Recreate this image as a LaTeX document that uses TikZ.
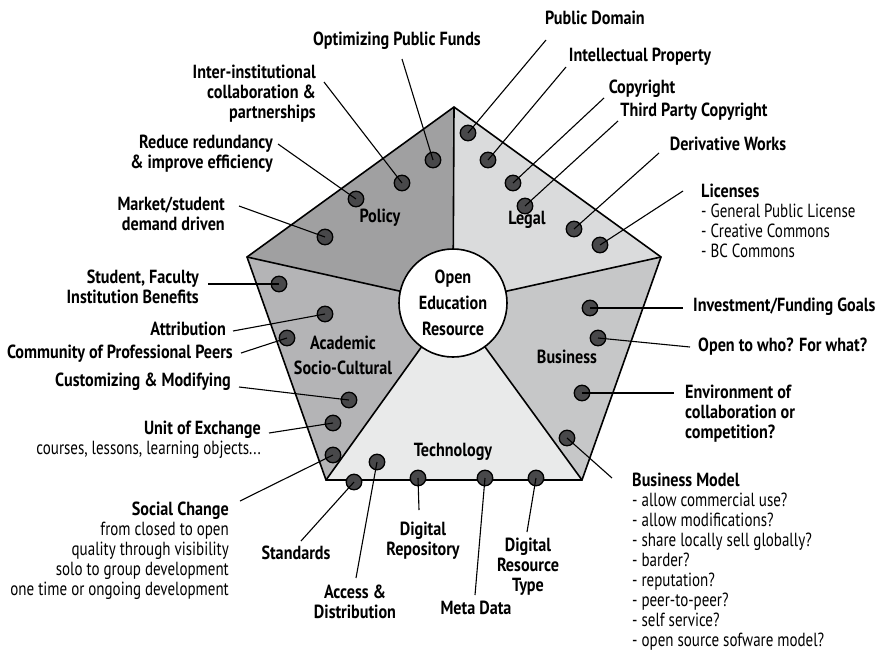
\documentclass[tikz,border=0pt]{standalone}
\usepackage{fontspec}
\setmainfont{PT Sans}[FakeStretch=0.79,BoldFeatures={FakeStretch=0.85}]
\definecolor{policygray}{RGB}{160,160,161}
\definecolor{legalgray}{RGB}{218,219,220}
\definecolor{businessgray}{RGB}{198,199,200}
\definecolor{techgray}{RGB}{233,234,234}
\definecolor{academicgray}{RGB}{180,180,182}
\definecolor{spotgray}{RGB}{72,72,74}
\newcommand\lblfont{\fontsize{19}{20}\selectfont}
\newcommand\secfont{\fontsize{19}{25}\selectfont}
\tikzset{
  spot/.style={circle,draw,line width=1.3pt,fill=spotgray,minimum size=15.5pt,inner sep=0pt},
  lbl/.style={font=\lblfont\bfseries,inner sep=0pt},
  sub/.style={font=\lblfont,inner sep=0pt},
  sector/.style={font=\secfont\bfseries,inner sep=0pt,align=center},
  leader/.style={line width=1.1pt},
}
\begin{document}
\begin{tikzpicture}[x=1pt,y=-1pt]
            \useasboundingbox (0,0) rectangle (881,651);
            % pentagon corners and hub
            \coordinate (top) at (454,107);
            \coordinate (rgt) at (661,257);
            \coordinate (brt) at (582,480);
            \coordinate (blt) at (326,480);
            \coordinate (lft) at (247,257);
            \coordinate (hub) at (453,303);

            \fill[policygray] (hub) -- (lft) -- (top) -- cycle;
            \fill[legalgray] (hub) -- (top) -- (rgt) -- cycle;
            \fill[businessgray] (hub) -- (rgt) -- (brt) -- cycle;
            \fill[techgray] (hub) -- (brt) -- (blt) -- cycle;
            \fill[academicgray] (hub) -- (blt) -- (lft) -- cycle;
            \foreach \c in {top,rgt,brt,blt,lft}
                \draw[line width=1.6pt] (hub) -- (\c);
            \draw[line width=1.6pt,line join=miter] (top) -- (rgt) -- (brt) -- (blt) -- (lft) -- cycle;

            \node[draw,circle,fill=white,line width=1.6pt,minimum size=108pt,inner sep=0pt,
                  font=\fontsize{19}{26}\selectfont\bfseries,align=center] (oer) at (hub) {Open\\Education\\Resource};

            \node[sector] (policy) at (380,218) {Policy};
            \node[sector] (legal) at (527,220) {Legal};
            \node[sector] (business) at (567,357) {Business};
            \node[sector] (tech) at (453,452) {Technology};
            \node[sector,anchor=north] (academic) at (343,336) {Academic\\Socio-Cultural};

            % spots
            \node[spot] (pa) at (433,160) {};
            \node[spot] (pb) at (402,183) {};
            \node[spot] (pc) at (356,199) {};
            \node[spot] (pd) at (325,237) {};
            \node[spot] (la) at (468,133) {};
            \node[spot] (lb) at (488,160) {};
            \node[spot] (lc) at (513,183) {};
            \node[spot] (ld) at (525,206) {};
            \node[spot] (le) at (574,229) {};
            \node[spot] (lf) at (600,245) {};
            \node[spot] (aa) at (279,284) {};
            \node[spot] (ab) at (325,314) {};
            \node[spot] (ac) at (287,338) {};
            \node[spot] (ad) at (349,400) {};
            \node[spot] (ae) at (333,423) {};
            \node[spot] (af) at (333,455) {};
            \node[spot] (ta) at (354,482) {};
            \node[spot] (tb) at (377,462) {};
            \node[spot] (tc) at (418,478) {};
            \node[spot] (td) at (485,478) {};
            \node[spot] (te) at (536,478) {};
            \node[spot] (ba) at (590,308) {};
            \node[spot] (bb) at (598,338) {};
            \node[spot] (bc) at (582,393) {};
            \node[spot] (bd) at (567,438) {};

            % labels
            \node[lbl] (publicdomain) at (595,18) {Public Domain};
            \node[lbl] (funds) at (397,41) {Optimizing Public Funds};
            \node[lbl] (ip) at (640,57) {Intellectual Property};
            \node[lbl,align=right,anchor=north east] (interinst) at (316,65) {Inter-institutional\\collaboration \&\\partnerships};
            \node[lbl] (copyright) at (642,89) {Copyright};
            \node[lbl] (thirdparty) at (694,112) {Third Party Copyright};
            \node[lbl,align=right,anchor=north east] (redundancy) at (273,135) {Reduce redundancy\\\& improve efficiency};
            \node[lbl] (derivative) at (728,144) {Derivative Works};
            \node[lbl,align=right,anchor=north east] (market) at (225,197) {Market/student\\demand driven};
            \node[sub,align=left,anchor=north west] (licenses) at (701,184) {\textbf{Licenses}\\- General Public License\\- Creative Commons\\- BC Commons};
            \node[lbl,align=right,anchor=north east] (benefits) at (199,270) {Student, Faculty\\Institution Benefits};
            \node[lbl,anchor=east] (attribution) at (226,329) {Attribution};
            \node[lbl,anchor=east] (peers) at (233,354) {Community of Professional Peers};
            \node[lbl,anchor=east] (customizing) at (231,382) {Customizing \& Modifying};
            \node[sub,align=right,anchor=north east] (unit) at (261,421) {\textbf{Unit of Exchange}\\courses, lessons, learning objects...};
            \node[sub,align=right,anchor=north east] (social) at (229,502) {\textbf{Social Change}\\from closed to open\\quality through visibility\\solo to group development\\one time or ongoing development};
            \node[lbl] (standards) at (296,553) {Standards};
            \node[lbl,align=center,anchor=north] (access) at (355,585) {Access \&\\Distribution};
            \node[lbl,align=center,anchor=north] (repository) at (423,522) {Digital\\Repository};
            \node[lbl] (metadata) at (476,608) {Meta Data};
            \node[lbl,align=center,anchor=north] (restype) at (528,538) {Digital\\Resource\\Type};
            \node[lbl,anchor=west] (funding) at (693,307) {Investment/Funding Goals};
            \node[lbl,anchor=west] (opento) at (698,347) {Open to who? For what?};
            \node[lbl,align=left,anchor=north west] (environment) at (685,385) {Environment of\\collaboration or\\competition?};
            \node[sub,align=left,anchor=north west] (model) at (632,473) {\textbf{Business Model}\\- allow commercial use?\\- allow modifications?\\- share locally sell globally?\\- barder?\\- reputation?\\- peer-to-peer?\\- self service?\\- open source sofware model?};

            % leader ends
            \coordinate (e-publicdomain) at (546,40);
            \coordinate (e-funds) at (402,59);
            \coordinate (e-ip) at (566,67);
            \coordinate (e-interinst) at (324,82);
            \coordinate (e-copyright) at (604,98);
            \coordinate (e-thirdparty) at (618,121);
            \coordinate (e-redundancy) at (278,144);
            \coordinate (e-derivative) at (659,153);
            \coordinate (e-market) at (239,206);
            \coordinate (e-licenses) at (683,191);
            \coordinate (e-benefits) at (208,284);
            \coordinate (e-attribution) at (233,331);
            \coordinate (e-peers) at (241,353);
            \coordinate (e-customizing) at (239,387);
            \coordinate (e-unit) at (269,433);
            \coordinate (e-social) at (240,501);
            \coordinate (e-standards) at (301,541);
            \coordinate (e-access) at (356,578);
            \coordinate (e-repository) at (419,510);
            \coordinate (e-metadata) at (475,595);
            \coordinate (e-restype) at (527,532);
            \coordinate (e-funding) at (683,308);
            \coordinate (e-opento) at (690,347);
            \coordinate (e-environment) at (674,393);
            \coordinate (e-model) at (612,478);

            \path[leader] (pa.center) edge (e-funds);
            \path[leader] (pb.center) edge (e-interinst);
            \path[leader] (pc.center) edge (e-redundancy);
            \path[leader] (pd.center) edge (e-market);
            \path[leader] (la.center) edge (e-publicdomain);
            \path[leader] (lb.center) edge (e-ip);
            \path[leader] (lc.center) edge (e-copyright);
            \path[leader] (ld.center) edge (e-thirdparty);
            \path[leader] (le.center) edge (e-derivative);
            \path[leader] (lf.center) edge (e-licenses);
            \path[leader] (aa.center) edge (e-benefits);
            \path[leader] (ab.center) edge (e-attribution);
            \path[leader] (ac.center) edge (e-peers);
            \path[leader] (ad.center) edge (e-customizing);
            \path[leader] (ae.center) edge (e-unit);
            \path[leader] (af.center) edge (e-social);
            \path[leader] (ta.center) edge (e-standards);
            \path[leader] (tb.center) edge (e-access);
            \path[leader] (tc.center) edge (e-repository);
            \path[leader] (td.center) edge (e-metadata);
            \path[leader] (te.center) edge (e-restype);
            \path[leader] (ba.center) edge (e-funding);
            \path[leader] (bb.center) edge (e-opento);
            \path[leader] (bc.center) edge (e-environment);
            \path[leader] (bd.center) edge (e-model);
        \end{tikzpicture}
\end{document}
